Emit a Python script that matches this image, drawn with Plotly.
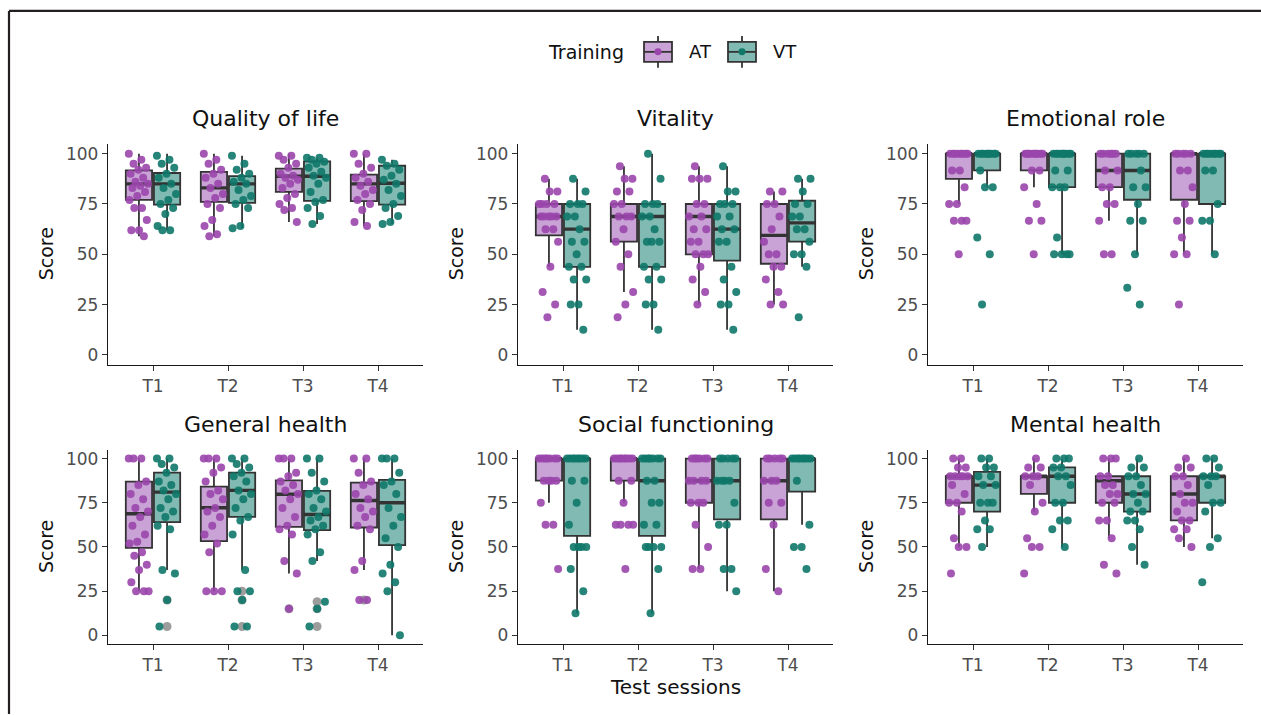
import plotly.graph_objects as go

W, H = 1261, 715

SESSIONS = ["T1", "T2", "T3", "T4"]
GROUPS = ["AT", "VT"]
Y_TICKS = [0, 25, 50, 75, 100]

# stats per session: [lower whisker, q1, median, q3, upper whisker]
qol_at_stats = [[59, 77, 85, 91.7, 100], [59, 76, 83, 91, 100], [66, 81, 88.8, 92.6, 100], [64, 76.4, 85, 89.6, 100]]
qol_vt_stats = [[62, 74.7, 85, 90.4, 100], [63, 75.5, 85, 88.8, 99], [65, 76.5, 88.8, 96.2, 98], [65, 74.7, 85.3, 94, 97]]
qol_at_pts = [[100, 97, 95, 93, 92, 90, 88, 86, 85, 84, 83, 81, 79, 77, 73, 73, 67, 62, 62, 59],
              [100, 97, 95, 92, 90, 88, 85, 83, 80, 78, 75, 73, 67, 64, 60, 59],
              [99, 99, 97, 95, 93, 90, 89, 88, 87, 85, 83, 80, 78, 75, 73, 72, 66],
              [100, 100, 95, 93, 90, 88, 86, 84, 82, 80, 77, 75, 72, 66, 64]]
qol_vt_pts = [[99, 97, 95, 93, 90, 88, 85, 83, 80, 77, 75, 73, 70, 64, 62, 62],
              [99, 95, 92, 90, 88, 86, 85, 82, 79, 77, 75, 73, 64, 63],
              [98, 98, 97, 96, 95, 93, 91, 89, 88, 85, 81, 77, 76, 73, 69, 65],
              [97, 95, 94, 92, 89, 87, 85, 82, 79, 75, 73, 69, 66, 65]]

vit_at_stats = [[43.75, 59.4, 68.75, 75, 87.5], [31.25, 56.25, 68.75, 75, 93.75], [25, 50, 68.75, 75, 93.75], [25, 45.3, 59.4, 75, 81.25]]
vit_vt_stats = [[12.5, 43.75, 62.5, 75, 87.5], [12.5, 43.75, 68.75, 75, 100], [12.5, 46.9, 62.5, 75, 93.75], [43.75, 56.25, 65.6, 76.6, 87.5]]
vit_at_pts = [[87.5, 81.25, 81.25, 75, 75, 75, 75, 68.75, 68.75, 68.75, 68.75, 68.75, 62.5, 62.5, 56.25, 43.75, 31.25, 25, 18.75],
              [93.75, 87.5, 87.5, 81.25, 81.25, 75, 75, 68.75, 68.75, 68.75, 62.5, 56.25, 50, 43.75, 31.25, 25, 18.75],
              [93.75, 87.5, 87.5, 87.5, 75, 75, 68.75, 68.75, 62.5, 62.5, 56.25, 56.25, 50, 50, 50, 43.75, 37.5, 31.25, 25],
              [81.25, 81.25, 75, 75, 68.75, 62.5, 56.25, 50, 50, 43.75, 43.75, 37.5, 31.25, 25, 25]]
vit_vt_pts = [[87.5, 81.25, 75, 75, 75, 68.75, 68.75, 62.5, 56.25, 56.25, 50, 43.75, 43.75, 37.5, 37.5, 25, 25, 12.5],
              [100, 87.5, 75, 75, 75, 68.75, 68.75, 62.5, 56.25, 56.25, 56.25, 43.75, 43.75, 37.5, 37.5, 25, 25, 12.5],
              [93.75, 81.25, 81.25, 75, 75, 75, 68.75, 68.75, 62.5, 62.5, 56.25, 56.25, 43.75, 37.5, 31.25, 25, 25, 12.5],
              [87.5, 87.5, 81.25, 75, 75, 68.75, 68.75, 62.5, 62.5, 56.25, 50, 50, 43.75, 18.75]]

emo_at_stats = [[75, 87.5, 100, 100, 100], [83.33, 91.67, 100, 100, 100], [66.67, 83.33, 91.67, 100, 100], [50, 77.1, 100, 100, 100]]
emo_vt_stats = [[83.33, 91.67, 100, 100, 100], [50, 83.33, 100, 100, 100], [50, 77.1, 91.67, 100, 100], [50, 75, 100, 100, 100]]
emo_at_pts = [[100, 100, 100, 100, 100, 100, 100, 100, 91.67, 91.67, 83.33, 75, 75, 66.67, 66.67, 66.67, 50],
              [100, 100, 100, 100, 100, 100, 100, 100, 100, 100, 91.67, 91.67, 83.33, 75, 66.67, 66.67, 50],
              [100, 100, 100, 100, 100, 100, 91.67, 91.67, 83.33, 83.33, 75, 75, 66.67, 50, 50],
              [100, 100, 100, 100, 100, 91.67, 91.67, 83.33, 75, 66.67, 66.67, 58.33, 50, 50, 25]]
emo_vt_pts = [[100, 100, 100, 100, 100, 100, 100, 100, 100, 91.67, 83.33, 83.33, 58.33, 50, 25],
              [100, 100, 100, 100, 100, 100, 100, 100, 100, 91.67, 91.67, 83.33, 83.33, 83.33, 58.33, 50, 50, 50, 50],
              [100, 100, 100, 100, 100, 91.67, 83.33, 83.33, 75, 66.67, 66.67, 50, 33.33, 25],
              [100, 100, 100, 100, 100, 100, 100, 100, 91.67, 91.67, 75, 66.67, 66.67, 50]]

gen_at_stats = [[25, 49.5, 68.8, 87, 100], [25, 53.3, 72.2, 84.1, 100], [35, 61.4, 79.8, 87.7, 100], [37, 61, 76.3, 86.4, 100]]
gen_vt_stats = [[37, 64, 81, 92, 100], [37, 67, 82, 92, 100], [42, 59.5, 68.4, 81.7, 100], [0, 51, 75, 88, 100]]
gen_at_pts = [[100, 100, 100, 87, 85, 80, 77, 72, 70, 67, 62, 57, 53, 52, 47, 45, 40, 37, 30, 25, 25, 25],
              [100, 100, 100, 95, 92, 87, 82, 80, 77, 72, 70, 67, 62, 57, 52, 47, 25, 25, 25],
              [100, 100, 100, 92, 90, 87, 85, 82, 80, 77, 72, 67, 62, 60, 57, 42, 35, 15],
              [100, 100, 92, 87, 85, 80, 77, 72, 70, 67, 62, 60, 42, 37, 20, 20]]
gen_vt_pts = [[100, 100, 97, 95, 92, 87, 85, 82, 80, 77, 72, 70, 67, 62, 60, 37, 35, 20, 5],
              [100, 100, 97, 95, 92, 90, 87, 82, 80, 77, 72, 67, 65, 57, 37, 25, 25, 20, 5, 5],
              [100, 100, 92, 87, 82, 80, 77, 72, 70, 67, 65, 62, 60, 57, 47, 42, 19, 15, 5],
              [100, 100, 100, 92, 87, 85, 80, 72, 67, 62, 55, 50, 40, 35, 30, 25, 0]]
gen_at_out = [[], [], [15], [20]]
gen_vt_out = [[20, 5], [25, 20, 5], [19, 15, 5], []]

soc_at_stats = [[75, 87.5, 100, 100, 100], [75, 87.5, 100, 100, 100], [37.5, 75, 87.5, 100, 100], [25, 65.6, 87.5, 100, 100]]
soc_vt_stats = [[12.5, 56.25, 100, 100, 100], [12.5, 56.25, 87.5, 100, 100], [25, 65.6, 87.5, 100, 100], [62.5, 81.25, 100, 100, 100]]
soc_at_pts = [[100, 100, 100, 100, 100, 100, 100, 87.5, 87.5, 87.5, 87.5, 75, 62.5, 62.5, 37.5],
              [100, 100, 100, 100, 100, 100, 100, 100, 87.5, 87.5, 75, 62.5, 62.5, 62.5, 62.5, 37.5],
              [100, 100, 100, 100, 100, 100, 87.5, 87.5, 87.5, 87.5, 75, 75, 75, 62.5, 50, 37.5, 37.5],
              [100, 100, 100, 100, 100, 87.5, 87.5, 87.5, 75, 75, 62.5, 37.5, 25]]
soc_vt_pts = [[100, 100, 100, 100, 100, 100, 100, 100, 87.5, 87.5, 75, 62.5, 50, 50, 50, 50, 37.5, 25, 12.5],
              [100, 100, 100, 100, 100, 100, 100, 87.5, 87.5, 75, 75, 62.5, 62.5, 50, 50, 50, 50, 37.5, 12.5],
              [100, 100, 100, 100, 100, 87.5, 87.5, 87.5, 87.5, 75, 62.5, 62.5, 37.5, 37.5, 25],
              [100, 100, 100, 100, 100, 100, 100, 100, 87.5, 62.5, 50, 50, 37.5]]

men_at_stats = [[50, 75, 90, 90, 100], [70, 80, 90, 90, 100], [55, 75, 87.5, 90, 100], [50, 65, 80, 90, 100]]
men_vt_stats = [[50, 70, 85, 92.5, 100], [50, 75, 90, 95, 100], [40, 70, 80, 90, 100], [55, 75, 90, 90, 100]]
men_at_pts = [[100, 100, 95, 95, 90, 90, 90, 90, 90, 85, 80, 75, 75, 70, 55, 50, 50, 35],
              [100, 95, 95, 90, 90, 90, 85, 75, 70, 55, 50, 50, 35],
              [100, 100, 100, 90, 90, 85, 85, 80, 80, 75, 75, 65, 65, 55, 40, 35],
              [100, 95, 95, 90, 90, 85, 80, 75, 75, 70, 65, 65, 60, 60, 55, 50]]
men_vt_pts = [[100, 100, 95, 95, 90, 90, 85, 85, 75, 75, 75, 65, 60, 60, 50],
              [100, 100, 100, 95, 95, 90, 90, 85, 75, 75, 65, 65, 60, 50],
              [100, 95, 95, 90, 90, 85, 80, 80, 75, 70, 70, 65, 65, 60, 50, 40],
              [100, 100, 95, 90, 90, 90, 85, 75, 75, 70, 55, 50, 30]]

PANELS = [
    ("Quality of life", qol_at_stats, qol_vt_stats, qol_at_pts, qol_vt_pts, None, None),
    ("Vitality", vit_at_stats, vit_vt_stats, vit_at_pts, vit_vt_pts, None, None),
    ("Emotional role", emo_at_stats, emo_vt_stats, emo_at_pts, emo_vt_pts, None, None),
    ("General health", gen_at_stats, gen_vt_stats, gen_at_pts, gen_vt_pts, gen_at_out, gen_vt_out),
    ("Social functioning", soc_at_stats, soc_vt_stats, soc_at_pts, soc_vt_pts, None, None),
    ("Mental health", men_at_stats, men_vt_stats, men_at_pts, men_vt_pts, None, None),
]

# ---- styling ----
FONT = "DejaVu Sans, Liberation Sans, Arial, sans-serif"
PT_COL = {"AT": "#9a46ac", "VT": "#0e7869"}
FILL_COL = {"AT": "#c9a3d5", "VT": "#80bab2"}
OFFSET = {"AT": -0.1875, "VT": 0.1875}
BOX_W = 0.35
LINE_COL = "#333333"

COL_X = [(108, 423), (518, 833), (928, 1243)]
ROW_Y = [(143, 365), (450, 645)]


def px(x):
    return x / W


def py(y):
    return 1 - y / H


fig = go.Figure()
layout = dict(width=W, height=H, margin=dict(l=0, r=0, t=0, b=0),
              paper_bgcolor="white", plot_bgcolor="white", showlegend=False,
              font=dict(family=FONT))
annotations = []
shapes = []

for i, (title, at_st, vt_st, at_pts, vt_pts, at_out, vt_out) in enumerate(PANELS):
    r, c = divmod(i, 3)
    xa = "x" if i == 0 else f"x{i+1}"
    ya = "y" if i == 0 else f"y{i+1}"
    x0, x1 = COL_X[c]
    y0, y1 = ROW_Y[r]
    axis_common = dict(showline=True, linecolor="#1a1a1a", linewidth=1.4, ticks="outside",
                       ticklen=5, tickcolor="#333333", tickwidth=1.2, showgrid=False, zeroline=False,
                       tickfont=dict(family=FONT, size=17, color="#4d4d4d"), fixedrange=True)
    layout["xaxis" if i == 0 else f"xaxis{i+1}"] = dict(
        domain=[px(x0), px(x1)], range=[0.4, 4.6], tickvals=[1, 2, 3, 4], ticktext=SESSIONS,
        anchor=ya, **axis_common)
    layout["yaxis" if i == 0 else f"yaxis{i+1}"] = dict(
        domain=[py(y1), py(y0)], range=[-5, 105], tickvals=Y_TICKS, anchor=xa, **axis_common)

    for g, st, pts, outs in (("AT", at_st, at_pts, at_out), ("VT", vt_st, vt_pts, vt_out)):
        pos = [k + 1 + OFFSET[g] for k in range(len(SESSIONS))]
        fig.add_trace(go.Box(
            x=pos, lowerfence=[s[0] for s in st], q1=[s[1] for s in st], median=[s[2] for s in st],
            q3=[s[3] for s in st], upperfence=[s[4] for s in st], width=BOX_W, whiskerwidth=0,
            fillcolor=FILL_COL[g], line=dict(color=LINE_COL, width=1.8), boxpoints=False,
            orientation="v", xaxis=xa, yaxis=ya, hoverinfo="skip"))
        # thick median
        mx, my = [], []
        for p, s in zip(pos, st):
            mx += [p - BOX_W / 2, p + BOX_W / 2, None]
            my += [s[2], s[2], None]
        fig.add_trace(go.Scatter(x=mx, y=my, mode="lines", line=dict(color=LINE_COL, width=3.4),
                                 xaxis=xa, yaxis=ya, hoverinfo="skip"))
        # outliers (gray)
        if outs:
            ox, oy = [], []
            for p, o in zip(pos, outs):
                for v in o:
                    ox.append(p)
                    oy.append(v)
            fig.add_trace(go.Scatter(x=ox, y=oy, mode="markers",
                                     marker=dict(color="#8c8c8c", size=9, opacity=0.85),
                                     xaxis=xa, yaxis=ya, hoverinfo="skip"))
        # jittered points
        jx, jy = [], []
        for p, vals in zip(pos, pts):
            for k, v in enumerate(vals):
                jit = ((k * 0.6180339887 + 0.3 * (i % 3)) % 1 - 0.5) * 0.27
                jx.append(p + jit)
                jy.append(v)
        fig.add_trace(go.Scatter(x=jx, y=jy, mode="markers",
                                 marker=dict(color=PT_COL[g], size=8, opacity=0.9, line=dict(width=0)),
                                 xaxis=xa, yaxis=ya, hoverinfo="skip"))

    # panel title
    annotations.append(dict(text=title, x=px((x0 + x1) / 2), y=py(118 if r == 0 else 425),
                            xref="paper", yref="paper", showarrow=False,
                            font=dict(family=FONT, size=22, color="#111111"),
                            xanchor="center", yanchor="middle"))
    # y title
    annotations.append(dict(text="Score", x=px(x0 - 62), y=py((y0 + y1) / 2), xref="paper", yref="paper",
                            showarrow=False, textangle=-90, font=dict(family=FONT, size=19, color="#111111"),
                            xanchor="center", yanchor="middle"))

# x title
annotations.append(dict(text="Test sessions", x=px(675), y=py(688), xref="paper", yref="paper",
                        showarrow=False, font=dict(family=FONT, size=20, color="#111111"),
                        xanchor="center", yanchor="middle"))

# legend
annotations.append(dict(text="Training", x=px(626), y=py(51), xref="paper", yref="paper", showarrow=False,
                        font=dict(family=FONT, size=19, color="#111111"), xanchor="right", yanchor="middle"))
for g, kx0, tx in (("AT", 644, 687), ("VT", 728, 771)):
    kx1 = kx0 + 28
    cx = (kx0 + kx1) / 2
    shapes.append(dict(type="line", xref="paper", yref="paper", x0=px(cx), x1=px(cx), y0=py(35), y1=py(67),
                       line=dict(color=LINE_COL, width=1.8)))
    shapes.append(dict(type="rect", xref="paper", yref="paper", x0=px(kx0), x1=px(kx1), y0=py(41), y1=py(61),
                       fillcolor=FILL_COL[g], line=dict(color=LINE_COL, width=1.8)))
    shapes.append(dict(type="line", xref="paper", yref="paper", x0=px(kx0), x1=px(kx1), y0=py(51), y1=py(51),
                       line=dict(color=LINE_COL, width=1.8)))
    shapes.append(dict(type="circle", xref="paper", yref="paper", x0=px(cx - 3.5), x1=px(cx + 3.5),
                       y0=py(54.5), y1=py(47.5), fillcolor=PT_COL[g], line=dict(width=0)))
    annotations.append(dict(text=g, x=px(tx), y=py(51), xref="paper", yref="paper", showarrow=False,
                            font=dict(family=FONT, size=18, color="#111111"), xanchor="left", yanchor="middle"))

# outer frame (top and left)
shapes.append(dict(type="line", xref="paper", yref="paper", x0=px(9), x1=1, y0=py(10), y1=py(10),
                   line=dict(color="#231f20", width=2.2)))
shapes.append(dict(type="line", xref="paper", yref="paper", x0=px(9), x1=px(9), y0=py(10), y1=0,
                   line=dict(color="#231f20", width=2.2)))

layout["annotations"] = annotations
layout["shapes"] = shapes
fig.update_layout(**layout)
fig.write_html("out.html", config={"displayModeBar": False},
               post_script="document.body.style.margin='0px';document.body.style.overflow='hidden';")
